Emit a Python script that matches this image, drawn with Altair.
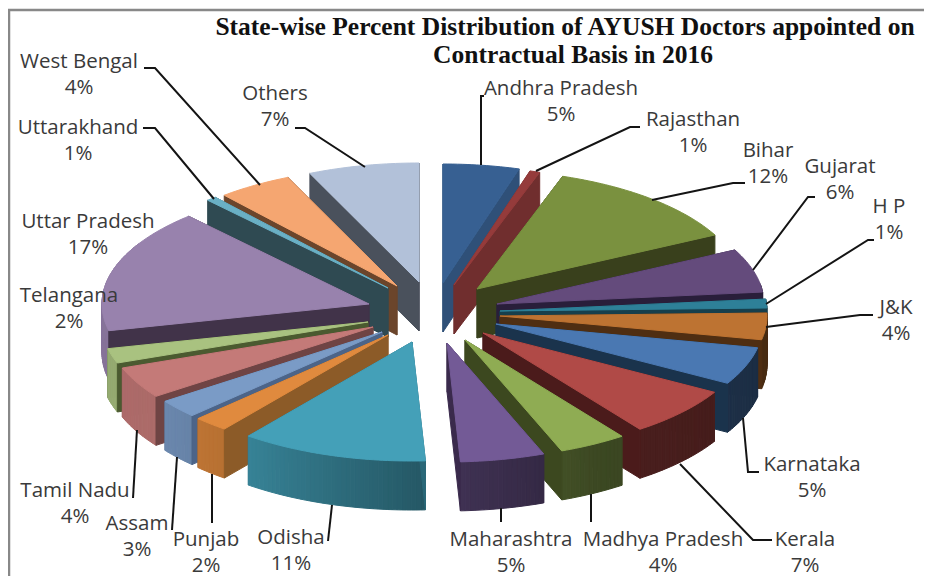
import math
import numpy as np
import pandas as pd
import altair as alt

states = ["Andhra Pradesh", "Rajasthan", "Bihar", "Gujarat", "H P", "J&K", "Karnataka", "Kerala",
          "Madhya Pradesh", "Maharashtra", "Odisha", "Punjab", "Assam", "Tamil Nadu", "Telangana",
          "Uttar Pradesh", "Uttarakhand", "West Bengal", "Others"]
# slice shares (percent) and the printed rounded labels
shares = [4.6, 0.6, 12.3, 5.9, 1.2, 3.6, 5.1, 6.7, 4.1, 5.1, 11.3, 2.1, 2.5, 4.3, 2.0, 16.8, 0.6, 4.5, 6.7]
labels = ["5%", "1%", "12%", "6%", "1%", "4%", "5%", "7%", "4%", "5%", "11%", "2%", "3%", "4%", "2%",
          "17%", "1%", "4%", "7%"]

# styling
top_colors = ["#376092", "#953b3b", "#7a913f", "#644b7c", "#2e8098", "#bd7332", "#4a78b2", "#b04a47",
              "#8fac53", "#735a96", "#44a0b8", "#e08a3e", "#7a9bc6", "#c47a78", "#a9c280", "#9882ad",
              "#6ab0c5", "#f5a671", "#b2c1d9"]
wall_colors = ["#2f5078", "#702e2e", "#39401c", "#291e3a", "#173f4c", "#4f2e12", "#1a334c", "#4b1b1b",
               "#3c481f", "#3a2a4c", "#2a6878", "#8c5b28", "#4c6488", "#6f4444", "#4b5a30", "#413349",
               "#2f4a52", "#6b452b", "#4a515c"]
# layout: apex of each exploded slice, label centres, leader polylines (picture pixels)
apex = [(443, 283), (454, 285), (477, 289), (497, 304), (500, 311), (500, 316), (496, 324), (483, 333),
        (465, 340), (447, 343), (412, 342), (388, 335), (382, 332), (373, 327), (368, 322), (369, 304),
        (388, 288), (397, 286), (419, 282)]
label_pos = [(561, 89), (693, 120), (768, 151), (840, 167), (889, 207), (896, 308), (812, 465), (805, 540),
             (663, 540), (511, 540), (291, 538), (206, 540), (137, 524), (75, 491), (69, 296), (88, 222),
             (78, 128), (79, 62), (275, 94)]
leaders = [
    [(481, 165), (481, 96), (484, 96)],
    [(536, 171), (630, 127), (640, 127)],
    [(652, 200), (733, 183), (745, 183)],
    [(753, 270), (808, 197), (815, 197)],
    [(766, 304), (868, 240), (874, 240)],
    [(766, 327), (860, 315), (873, 315)],
    [(743, 418), (748, 472), (759, 472)],
    [(680, 464), (753, 540), (772, 540)],
    [(591, 494), (591, 522)],
    [(501, 508), (501, 522)],
    [(332, 505), (328, 541)],
    [(212, 474), (212, 523)],
    [(177, 457), (172, 530)],
    [(137, 430), (133, 498)],
    [(214, 199), (155, 128), (143, 128)],
    [(260, 185), (155, 68), (144, 68)],
    [(365, 167), (305, 128), (295, 128)],
]
border = [[(9, 584), (9, 10), (932, 10)]]
title_lines = ["State-wise Percent Distribution of AYUSH Doctors appointed on", "Contractual Basis in 2016"]
title_pos = [(565, 27), (573, 55)]

RX, RY, DEPTH = 267.0, 119.0, 49.0
W, H = 916, 568


def pt(i, t):
    a = math.radians(t)
    return (apex[i][0] + RX * math.sin(a), apex[i][1] - RY * math.cos(a))


def poly(points, color):
    ring = [[float(p[0]), float(p[1])] for p in points]
    ring.append(ring[0])
    return {"type": "Feature", "geometry": {"type": "Polygon", "coordinates": [ring]},
            "properties": {"color": color}}


def shade(hex_color, f):
    r, g, b = (int(hex_color[k:k + 2], 16) for k in (1, 3, 5))
    return "#%02x%02x%02x" % (int(r * f), int(g * f), int(b * f))


def down(p):
    return (p[0], p[1] + DEPTH)


scale = 360.0 / sum(shares)
starts = np.cumsum([0] + shares[:-1]) * scale
ends = np.cumsum(shares) * scale
right_half = list(range(0, 10))
left_half = [18, 17, 16, 15, 14, 13, 12, 11, 10]

features = []
for i in right_half + left_half:
    t0, t1 = float(starts[i]), float(ends[i])
    n = max(2, int((t1 - t0) / 1.0))
    ts = [t0 + (t1 - t0) * k / n for k in range(n + 1)]
    ap = apex[i]
    start_q = poly([ap, pt(i, t0), down(pt(i, t0)), down(ap)], wall_colors[i])
    end_q = poly([ap, pt(i, t1), down(pt(i, t1)), down(ap)], wall_colors[i])
    back_q, front_q = (start_q, end_q) if i in right_half else (end_q, start_q)
    features.append(back_q)
    for a, b in zip(ts[:-1], ts[1:]):
        m = (a + b) / 2
        if 80 < m < 300:
            f = float(np.interp(m, [90, 150, 177, 218, 235, 300], [0.38, 0.42, 0.55, 0.82, 0.88, 0.9]))
            pa, pb = pt(i, a), pt(i, b)
            features.append(poly([pa, pb, down(pb), down(pa)], shade(top_colors[i], f)))
    features.append(front_q)
    features.append(poly([ap] + [pt(i, t) for t in ts], top_colors[i]))


def polyline(ln):
    return {"type": "Feature", "properties": {},
            "geometry": {"type": "LineString", "coordinates": [[float(p[0]), float(p[1])] for p in ln]}}


line_features = [polyline(ln) for ln in leaders]
border_features = [polyline(ln) for ln in border]

rows = []
for s, l, pos in zip(states, labels, label_pos):
    rows.append({"x": pos[0], "y": pos[1], "t": s})
    rows.append({"x": pos[0], "y": pos[1] + 25.5, "t": l})
text_df = pd.DataFrame(rows)
title_df = pd.DataFrame({"x": [p[0] for p in title_pos], "y": [p[1] for p in title_pos], "t": title_lines})

slices = alt.Chart(alt.Data(values=features)).mark_geoshape(strokeWidth=1).encode(
    fill=alt.Fill("properties.color:N", scale=None),
    stroke=alt.Stroke("properties.color:N", scale=None),
)
lead = alt.Chart(alt.Data(values=line_features)).mark_geoshape(filled=False, stroke="#141414", strokeWidth=2)
frame = alt.Chart(alt.Data(values=border_features)).mark_geoshape(filled=False, stroke="#888888", strokeWidth=2.5)
text = alt.Chart(text_df).mark_text(font="Open Sans", fontSize=20.5, color="#3a3a3a").encode(
    longitude="x:Q", latitude="y:Q", text="t:N")
title = alt.Chart(title_df).mark_text(font="Liberation Serif", fontSize=25.5, fontWeight="bold", color="#111111").encode(
    longitude="x:Q", latitude="y:Q", text="t:N")

chart = alt.layer(frame, slices, lead, text, title).project(
    type="identity", scale=1, translate=[-8, -8]
).properties(width=W, height=H, padding=0, autosize=alt.AutoSizeParams(type="none"),
             background="white").configure_view(stroke=None)

chart.save("out.html", embed_options={"renderer": "svg", "actions": False})
